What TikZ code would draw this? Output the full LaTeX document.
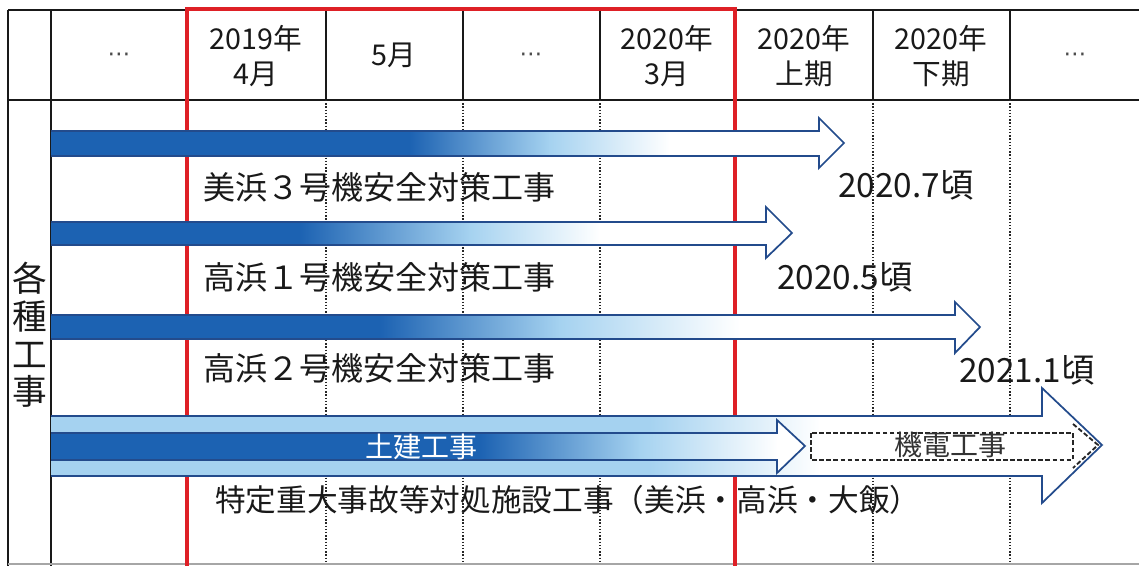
\documentclass[tikz,border=0pt]{standalone}
\usepackage{fontspec}
\setmainfont{Noto Sans CJK JP}
\newfontfamily\dejavu{DejaVu Sans}
\definecolor{darkb}{RGB}{28,98,178}
\definecolor{lightb}{RGB}{165,210,240}
\definecolor{outb}{RGB}{35,75,140}
\definecolor{redl}{RGB}{222,32,38}
\begin{document}
\begin{tikzpicture}[x=0.75pt,y=-0.75pt,
  gridl/.style={line width=1.5pt,black!90},
  dotl/.style={line width=1.1pt, dash pattern=on 1.1pt off 1.3pt, black!85},
  redline/.style={line width=3pt, redl},
  arrowline/.style={line width=1.3pt, outb, line join=miter},
  dashl/.style={black!85, line width=1.4pt, dash pattern=on 3.5pt off 1.8pt},
  hdr/.style={font=\fontsize{21.5}{26.5}\selectfont, align=center, text=black!90, inner sep=0pt},
  dots/.style={font=\dejavu\fontsize{17}{17}\selectfont, text=black!70, inner sep=0pt},
  lbl/.style={font=\fontsize{24}{28}\selectfont, anchor=west, inner sep=0pt, text=black!90},
  datel/.style={font=\fontsize{25}{28}\selectfont, inner sep=0pt, text=black!90},
]
\useasboundingbox (0,0) rectangle (1139,566);
\fill[white] (0,0) rectangle (1139,566);

% grid
\draw[gridl] (8,10) -- (1139,10);
\draw[gridl] (8,100) -- (1139,100);
\draw[gridl] (8,10) -- (8,566);
\draw[gridl] (51,10) -- (51,566);
\foreach \x in {326,463,600,873,1010} \draw[gridl] (\x,10) -- (\x,100);
\foreach \x in {326,463,600,873,1010} \draw[dotl] (\x,100) -- (\x,566);
\draw[black!35, line width=0.8pt] (8,564) -- (1139,564);
\draw[redline] (187,566) -- (187,9) -- (735,9) -- (735,566);

% arrow 1
\fill[darkb] (51,131) rectangle (410,156);
\shade[left color=darkb, right color=lightb] (409,131) rectangle (550,156);
\shade[left color=lightb, right color=white] (549,131) rectangle (670,156);
\fill[white] (669,131) -- (819,131) -- (819,118) -- (844,143) -- (819,168) -- (819,156) -- (669,156) -- cycle;
\draw[arrowline] (51,131) -- (819,131) -- (819,118) -- (844,143) -- (819,168) -- (819,156) -- (51,156);

% arrow 2
\fill[darkb] (51,222) rectangle (300,245);
\shade[left color=darkb, right color=lightb] (299,222) rectangle (470,245);
\shade[left color=lightb, right color=white] (469,222) rectangle (600,245);
\fill[white] (599,222) -- (766,222) -- (766,207) -- (792,233) -- (766,258) -- (766,245) -- (599,245) -- cycle;
\draw[arrowline] (51,222) -- (766,222) -- (766,207) -- (792,233) -- (766,258) -- (766,245) -- (51,245);

% arrow 3
\fill[darkb] (51,315) rectangle (380,339);
\shade[left color=darkb, right color=lightb] (379,315) rectangle (560,339);
\shade[left color=lightb, right color=white] (559,315) rectangle (740,339);
\fill[white] (739,315) -- (955,315) -- (955,302) -- (980,327) -- (955,353) -- (955,339) -- (739,339) -- cycle;
\draw[arrowline] (51,315) -- (955,315) -- (955,302) -- (980,327) -- (955,353) -- (955,339) -- (51,339);

% big arrow
\fill[lightb] (51,416) rectangle (650,476);
\shade[left color=lightb, right color=white] (649,416) rectangle (820,476);
\fill[white] (819,416) -- (1042,416) -- (1042,388) -- (1102,445) -- (1042,503) -- (1042,476) -- (819,476) -- cycle;
\draw[arrowline] (51,416) -- (1042,416) -- (1042,388) -- (1102,445) -- (1042,503) -- (1042,476) -- (51,476);

% inner arrow
\fill[darkb] (51,433) rectangle (480,460);
\shade[left color=darkb, right color=lightb] (479,433) rectangle (640,460);
\shade[left color=lightb, right color=white] (639,433) rectangle (778,460);
\fill[white] (777,433) -- (777,420) -- (805,446) -- (777,473) -- (777,460) -- cycle;
\draw[arrowline] (51,433) -- (777,433) -- (777,420) -- (805,446) -- (777,473) -- (777,460) -- (51,460);

% dashed arrow
\draw[dashl] (811,433) rectangle (1073,460);
\draw[dashl] (1073,424) -- (1098,445) -- (1073,468);

% header texts
\node[dots] (h1) at (119,57) {⋯};
\node[hdr] (h2) at (256,56) {2019年\\4月};
\node[hdr] (h3) at (394,55) {5月};
\node[dots] (h4) at (531,57) {⋯};
\node[hdr] (h5) at (667,56) {2020年\\3月};
\node[hdr] (h6) at (804,56) {2020年\\上期};
\node[hdr] (h7) at (941,56) {2020年\\下期};
\node[dots] (h8) at (1075,57) {⋯};

% left column
\node[font=\fontsize{26}{28.3}\selectfont, align=center, inner sep=0pt, text=black!90] (side) at (30,335) {各\\種\\工\\事};

% labels
\node[lbl] (l1) at (203,187) {美浜３号機安全対策工事};
\node[lbl] (l2) at (203,277) {高浜１号機安全対策工事};
\node[lbl] (l3) at (203,368) {高浜２号機安全対策工事};
\node[lbl, font=\fontsize{23}{26}\selectfont] (l4) at (215,500) {特定重大事故等対処施設工事（美浜・高浜・大飯）};

\node[datel] (d1) at (906,185) {2020.7頃};
\node[datel] (d2) at (845,277) {2020.5頃};
\node[datel] (d3) at (1027,370) {2021.1頃};

\node[font=\fontsize{21}{24}\selectfont, text=white, inner sep=0pt] (t1) at (421,447) {土建工事};
\node[font=\fontsize{21}{24}\selectfont, text=black!80, inner sep=0pt] (t2) at (950,445) {機電工事};
\end{tikzpicture}
\end{document}
